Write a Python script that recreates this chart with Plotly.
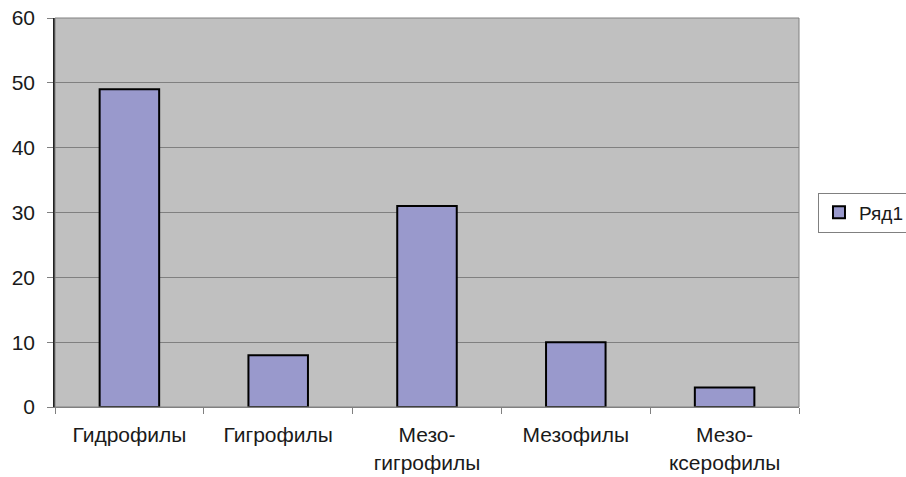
import plotly.graph_objects as go

categories = ["Гидрофилы", "Гигрофилы", "Мезо-<br>гигрофилы", "Мезофилы", "Мезо-<br>ксерофилы"]
values = [49, 8, 31, 10, 3]
series_name = "Ряд1"
y_ticks = [0, 10, 20, 30, 40, 50, 60]

font = dict(family="Liberation Sans, Arial, sans-serif", size=21, color="#1a1a1a")
xfont = dict(family="Liberation Sans, Arial, sans-serif", size=21, color="#1a1a1a")

fig = go.Figure(
    go.Bar(
        x=categories,
        y=values,
        name=series_name,
        width=0.4,
        marker=dict(color="#9999CC", line=dict(color="#000000", width=2)),
        showlegend=True,
    )
)

fig.update_layout(
    width=906,
    height=477,
    margin=dict(l=55, r=107, t=18, b=70, autoexpand=False),
    paper_bgcolor="#FFFFFF",
    plot_bgcolor="#C0C0C0",
    font=font,
    showlegend=True,
    legend=dict(
        x=1.0255,
        y=0.5,
        xanchor="left",
        yanchor="middle",
        bgcolor="#FFFFFF",
        bordercolor="#808080",
        borderwidth=1,
        font=dict(family="Liberation Sans, Arial, sans-serif", size=19, color="#1a1a1a"),
        itemwidth=30,
    ),
    bargap=0.6,
    shapes=[
        # gray frame around the plotting area
        dict(type="rect", xref="paper", yref="paper", x0=0, y0=0, x1=1, y1=1,
             line=dict(color="#808080", width=1), layer="above"),
    ],
)

fig.update_xaxes(
    type="category",
    tickson="boundaries",
    ticks="outside",
    ticklen=6,
    tickcolor="#808080",
    showgrid=False,
    showline=True,
    linecolor="#808080",
    linewidth=1,
    ticklabelstandoff=9,
    tickfont=xfont,
)

fig.update_yaxes(
    range=[0, 60],
    tickvals=y_ticks,
    ticks="outside",
    ticklen=6,
    tickcolor="#808080",
    showgrid=True,
    gridcolor="#808080",
    gridwidth=1,
    showline=True,
    linecolor="#222222",
    linewidth=1.5,
    zeroline=False,
    ticklabelstandoff=8,
    tickfont=font,
)

fig.write_html("out.html")
